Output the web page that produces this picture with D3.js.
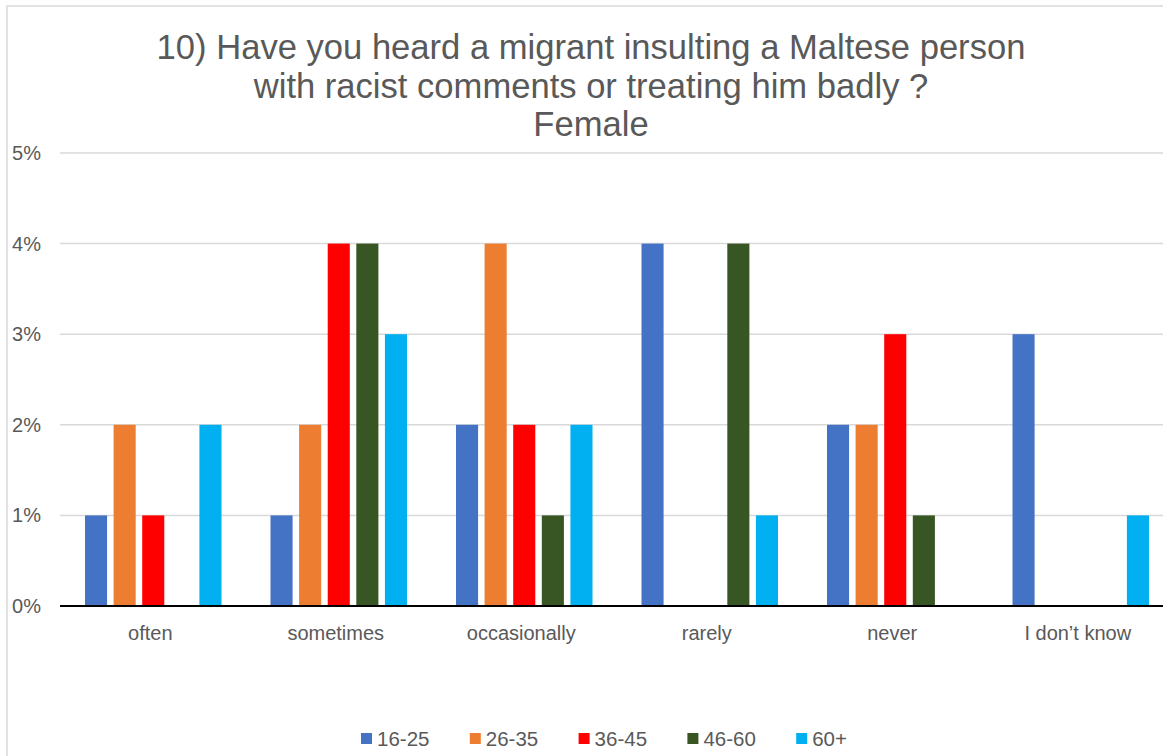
<!DOCTYPE html>
<html>
<head>
<meta charset="utf-8">
<script src="https://cdn.jsdelivr.net/npm/d3@7/dist/d3.min.js"></script>
<style>
  html, body { margin: 0; padding: 0; background: #fff; }
  svg { display: block; font-family: "Liberation Sans", Arial, sans-serif; }
</style>
</head>
<body>
<svg id="chart" width="1163" height="756"></svg>
<script>
const titleLines = ["10) Have you heard a migrant insulting a Maltese person", "with racist comments or treating him badly ?", "Female"];
const categories = ["often", "sometimes", "occasionally", "rarely", "never", "I don\u2019t know"];
const seriesNames = ["16-25", "26-35", "36-45", "46-60", "60+"];
const seriesColors = ["#4472C4", "#ED7D31", "#FF0000", "#375623", "#00B0F0"];
const v16_25 = [1, 1, 2, 4, 2, 3];
const v26_35 = [2, 2, 4, 0, 2, 0];
const v36_45 = [1, 4, 2, 0, 3, 0];
const v46_60 = [0, 4, 1, 4, 1, 0];
const v60plus = [2, 3, 2, 1, 0, 1];
const seriesValues = [v16_25, v26_35, v36_45, v46_60, v60plus];
const yTicks = [0, 1, 2, 3, 4, 5];

const svg = d3.select("#chart");
const textColor = "#595959";

// chart border
svg.append("rect").attr("x", 7).attr("y", 6).attr("width", 1180).attr("height", 780)
  .attr("fill", "none").attr("stroke", "#d9d9d9").attr("stroke-width", 1.5);

// title
const title = svg.append("text").attr("text-anchor", "middle").attr("fill", textColor)
  .attr("font-size", "34.6px");
titleLines.forEach((t, i) => {
  title.append("tspan").attr("x", 591).attr("y", 59 + i * 38.5).text(t);
});

const x0 = d3.scaleBand().domain(categories).range([60.5, 1173.5]).paddingInner(0).paddingOuter(0);
const x1 = d3.scaleBand().domain(seriesNames).range([24.5, 185.5 - 24.5]).paddingInner(0.228).paddingOuter(0);
const y = d3.scaleLinear().domain([0, 5]).range([606, 153]);

// gridlines
svg.append("g").selectAll("line").data(yTicks.filter(d => d > 0)).join("line")
  .attr("x1", 60).attr("x2", 1163)
  .attr("y1", d => y(d)).attr("y2", d => y(d))
  .attr("stroke", "#d9d9d9").attr("stroke-width", 1.5);

// y axis labels
const yAxis = d3.axisLeft(y).tickValues(yTicks).tickFormat(d => d + "%").tickSize(0).tickPadding(0);
const yg = svg.append("g").attr("transform", "translate(41,0)").call(yAxis);
yg.select(".domain").remove();
yg.selectAll("text").attr("fill", textColor).attr("font-size", "20px")
  .attr("font-family", "Liberation Sans, Arial, sans-serif");

// bars
const groups = svg.append("g").selectAll("g").data(categories).join("g")
  .attr("transform", d => `translate(${x0(d)},0)`);
groups.selectAll("rect").data((c, ci) => seriesNames.map((s, si) => ({ s, si, v: seriesValues[si][ci] })))
  .join("rect")
  .attr("x", d => x1(d.s))
  .attr("width", x1.bandwidth())
  .attr("y", d => y(d.v))
  .attr("height", d => y(0) - y(d.v))
  .attr("fill", d => seriesColors[d.si]);

// x axis
const xAxis = d3.axisBottom(x0).tickSize(0).tickPadding(0);
const xg = svg.append("g").attr("transform", "translate(0,606)").call(xAxis);
xg.select(".domain").remove();
xg.selectAll("text").attr("fill", textColor).attr("font-size", "20px")
  .attr("font-family", "Liberation Sans, Arial, sans-serif")
  .attr("dy", null).attr("y", 34).attr("dx", -3);
svg.append("line").attr("x1", 60).attr("x2", 1163).attr("y1", 606).attr("y2", 606)
  .attr("stroke", "#000").attr("stroke-width", 2);

// legend
const legend = svg.append("g").selectAll("g").data(seriesNames).join("g")
  .attr("transform", (d, i) => `translate(${361 + i * 108.8},733)`);
legend.append("rect").attr("width", 11).attr("height", 11).attr("fill", (d, i) => seriesColors[i]);
legend.append("text").attr("x", 16).attr("y", 13).attr("fill", textColor).attr("font-size", "20.5px").text(d => d);
</script>
</body>
</html>
